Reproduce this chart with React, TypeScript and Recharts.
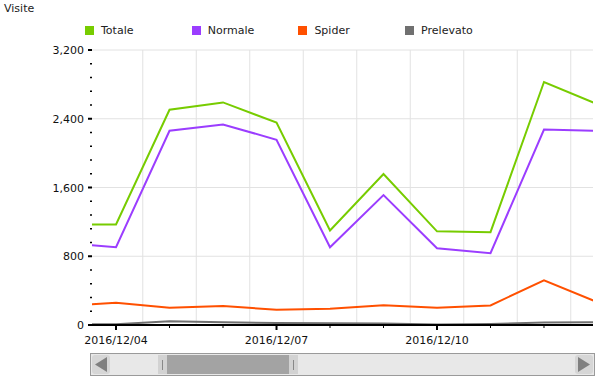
import React from "react";
import { LineChart, Line, XAxis, YAxis, ReferenceLine } from "recharts";

// giorni (indice 0 = 2016/12/04), la vista è scorsa: 12/03 e 12/13 escono dal bordo
const dayIndex = [-1, 0, 1, 2, 3, 4, 5, 6, 7, 8, 9];
const dayLabels = [
  "2016/12/03", "2016/12/04", "2016/12/05", "2016/12/06", "2016/12/07", "2016/12/08",
  "2016/12/09", "2016/12/10", "2016/12/11", "2016/12/12", "2016/12/13",
];
const totale = [1170, 1170, 2505, 2590, 2355, 1100, 1757, 1090, 1080, 2828, 2568];
const normale = [958, 905, 2260, 2334, 2155, 905, 1512, 893, 835, 2275, 2259];
const spider = [217, 259, 201, 220, 177, 190, 231, 201, 228, 520, 265];
const prelevato = [5, 10, 44, 32, 22, 20, 18, 5, 12, 30, 32];

const xTicks = [0, 1, 2, 3, 4, 5, 6, 7, 8];
const xLabelled = [0, 3, 6];
const xGrid = [-0.5, 0.5, 1.5, 2.5, 3.5, 4.5, 5.5, 6.5, 7.5, 8.5];
const yTicks = Array.from({ length: 21 }, (_, i) => i * 160);
const yGrid = [800, 1600, 2400, 3200];

const series = [
  { key: "totale", name: "Totale", color: "#77cc00" },
  { key: "normale", name: "Normale", color: "#9b3dff" },
  { key: "spider", name: "Spider", color: "#ff5000" },
  { key: "prelevato", name: "Prelevato", color: "#707070" },
];

const data = dayIndex.map((d, i) => ({
  d,
  label: dayLabels[i],
  totale: totale[i],
  normale: normale[i],
  spider: spider[i],
  prelevato: prelevato[i],
}));

const FONT = "'DejaVu Sans', Verdana, sans-serif";

const XTick = (props: any) => {
  const { x, y, payload } = props;
  const major = xLabelled.includes(payload.value);
  return (
    <g>
      <line x1={x} x2={x} y1={y} y2={y + (major ? 5 : 3)} stroke="#000" strokeWidth={major ? 2 : 1} />
      {major && (
        <text x={x} y={y + 19} textAnchor="middle" fontSize={11} fill="#111" fontFamily={FONT}>
          {dayLabels[payload.value + 1]}
        </text>
      )}
    </g>
  );
};

const YTick = (props: any) => {
  const { x, y, payload } = props;
  const major = payload.value % 800 === 0;
  return (
    <g>
      <line x1={major ? x - 4 : x - 2} x2={x} y1={y} y2={y} stroke="#000" strokeWidth={major ? 2 : 1.5} />
      {major && (
        <text x={x - 8} y={y + 4} textAnchor="end" fontSize={11} fill="#111" fontFamily={FONT}>
          {payload.value.toLocaleString("en-US")}
        </text>
      )}
    </g>
  );
};

const Scrollbar = () => (
  <div style={{ position: "absolute", left: 90, top: 353, width: 503, height: 21, border: "1px solid #9a9a9a", background: "#e8e8e8" }}>
    <div style={{ position: "absolute", left: 1, top: 1, width: 18, height: 19, background: "#d6d6d6", borderRadius: 3 }}>
      <svg width={18} height={19}>
        <polygon points="3,9.5 15,2 15,17" fill="#808080" />
      </svg>
    </div>
    <div style={{ position: "absolute", left: 67, top: 1, width: 9, height: 19, background: "#d2d2d2" }}>
      <div style={{ position: "absolute", left: 4, top: 5, width: 1, height: 10, background: "#888" }} />
    </div>
    <div style={{ position: "absolute", left: 76, top: 1, width: 122, height: 19, background: "#a3a3a3" }} />
    <div style={{ position: "absolute", left: 198, top: 1, width: 9, height: 19, background: "#d2d2d2" }}>
      <div style={{ position: "absolute", left: 4, top: 5, width: 1, height: 10, background: "#888" }} />
    </div>
    <div style={{ position: "absolute", left: 484, top: 1, width: 18, height: 19, background: "#d6d6d6", borderRadius: 3 }}>
      <svg width={18} height={19}>
        <polygon points="15,9.5 3,2 3,17" fill="#808080" />
      </svg>
    </div>
  </div>
);

export default function App() {
  return (
    <div style={{ position: "fixed", left: 0, top: 0, width: 605, height: 387, background: "#fff", fontFamily: FONT }}>
      <div style={{ position: "absolute", left: 4, top: 2, fontSize: 11, color: "#222" }}>Visite</div>

      {/* legenda */}
      {series.map((s, i) => (
        <div key={s.key} style={{ position: "absolute", left: 85 + i * 106.7, top: 24, fontSize: 11, color: "#222", display: "flex", alignItems: "center" }}>
          <span style={{ display: "inline-block", width: 9, height: 9, background: s.color, marginRight: 7 }} />
          <span>{s.name}</span>
        </div>
      ))}

      <LineChart width={605} height={387} data={data} margin={{ top: 50, right: 12, left: 0, bottom: 32 }}>
        {yGrid.map((v) => (
          <ReferenceLine key={"h" + v} y={v} stroke="#e2e2e2" strokeWidth={1} />
        ))}
        {xGrid.map((v) => (
          <ReferenceLine key={"v" + v} x={v} stroke="#e2e2e2" strokeWidth={1} />
        ))}
        <XAxis
          dataKey="d"
          type="number"
          domain={[-0.449, 8.916]}
          allowDataOverflow
          ticks={xTicks}
          interval={0}
          height={30}
          tickSize={0}
          tickMargin={0}
          tickLine={false}
          axisLine={{ stroke: "#000", strokeWidth: 2 }}
          tick={<XTick />}
        />
        <YAxis
          type="number"
          domain={[0, 3200]}
          ticks={yTicks}
          interval={0}
          width={92}
          tickSize={0}
          tickMargin={0}
          tickLine={false}
          axisLine={false}
          tick={<YTick />}
        />
        {series.map((s) => (
          <Line
            key={s.key}
            dataKey={s.key}
            name={s.name}
            type="linear"
            stroke={s.color}
            strokeWidth={2}
            dot={false}
            activeDot={false}
            isAnimationActive={false}
          />
        ))}
      </LineChart>

      <Scrollbar />
    </div>
  );
}
